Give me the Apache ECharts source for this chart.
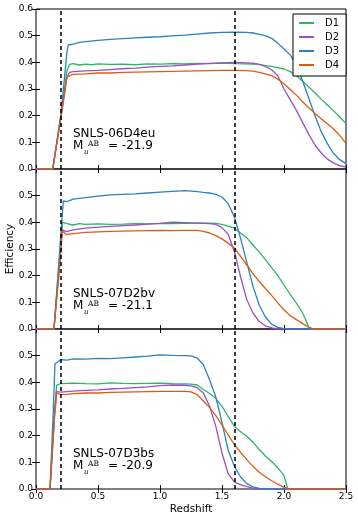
<!DOCTYPE html>
<html>
<head>
<meta charset="utf-8">
<script src="https://cdn.jsdelivr.net/npm/echarts@6/dist/echarts.min.js"></script>
<style>
  html, body { margin: 0; padding: 0; background: #fff; }
  #main { width: 358px; height: 521px; }
</style>
</head>
<body>
<div id="main"></div>
<script>
// redshift cuts (dashed lines)
var cuts = [0.2, 1.6];
var names = ['D1', 'D2', 'D3', 'D4'];
var colors = ['#2db562', '#9a4fc2', '#2a82c1', '#df5a14'];
var xTicks = [0, 0.5, 1.0, 1.5, 2.0, 2.5];
var panelLabels = ['SNLS-06D4eu', 'SNLS-07D2bv', 'SNLS-07D3bs'];
var panelMags = ['-21.9', '-21.1', '-20.9'];

// panel 1: SNLS-06D4eu  [redshift, efficiency]
var d1Top = [[0,0],[0.135,0],[0.2,0.2],[0.25,0.37],[0.27,0.392],[0.3,0.395],[0.35,0.39],[0.4,0.393],[0.45,0.391],[0.5,0.394],[0.6,0.392],[0.7,0.393],[0.8,0.391],[0.9,0.394],[1.0,0.393],[1.1,0.395],[1.2,0.394],[1.3,0.396],[1.4,0.395],[1.5,0.397],[1.6,0.395],[1.7,0.394],[1.8,0.392],[1.85,0.388],[1.9,0.385],[1.95,0.38],[2.0,0.375],[2.05,0.365],[2.1,0.35],[2.15,0.33],[2.2,0.308],[2.25,0.285],[2.3,0.262],[2.35,0.24],[2.4,0.218],[2.45,0.195],[2.5,0.17]];
var d2Top = [[0,0],[0.135,0],[0.2,0.19],[0.25,0.345],[0.27,0.362],[0.3,0.365],[0.4,0.368],[0.5,0.37],[0.6,0.373],[0.7,0.376],[0.8,0.378],[0.9,0.382],[1.0,0.385],[1.1,0.387],[1.2,0.39],[1.3,0.393],[1.4,0.396],[1.5,0.398],[1.6,0.4],[1.7,0.398],[1.75,0.397],[1.8,0.392],[1.85,0.385],[1.9,0.372],[1.95,0.35],[2.0,0.3],[2.05,0.26],[2.1,0.22],[2.15,0.175],[2.2,0.13],[2.25,0.09],[2.3,0.06],[2.35,0.037],[2.4,0.022],[2.45,0.013],[2.5,0.007]];
var d3Top = [[0,0],[0.135,0],[0.2,0.2],[0.25,0.44],[0.26,0.465],[0.3,0.468],[0.35,0.475],[0.4,0.478],[0.5,0.482],[0.6,0.486],[0.7,0.489],[0.8,0.492],[0.9,0.494],[1.0,0.496],[1.1,0.499],[1.2,0.502],[1.3,0.506],[1.4,0.51],[1.5,0.512],[1.6,0.513],[1.7,0.512],[1.75,0.51],[1.8,0.505],[1.85,0.5],[1.9,0.49],[1.95,0.472],[2.0,0.45],[2.05,0.428],[2.1,0.39],[2.15,0.33],[2.2,0.265],[2.25,0.2],[2.3,0.14],[2.35,0.095],[2.4,0.058],[2.45,0.035],[2.5,0.02]];
var d4Top = [[0,0],[0.135,0],[0.2,0.19],[0.25,0.345],[0.26,0.352],[0.3,0.355],[0.4,0.357],[0.5,0.36],[0.6,0.36],[0.7,0.362],[0.8,0.363],[0.9,0.364],[1.0,0.365],[1.1,0.366],[1.2,0.367],[1.3,0.368],[1.4,0.369],[1.5,0.37],[1.6,0.37],[1.7,0.369],[1.75,0.367],[1.8,0.362],[1.85,0.357],[1.9,0.35],[1.95,0.337],[2.0,0.32],[2.05,0.298],[2.1,0.277],[2.15,0.252],[2.2,0.23],[2.25,0.208],[2.3,0.188],[2.35,0.17],[2.4,0.15],[2.45,0.125],[2.5,0.096]];

// panel 2: SNLS-07D2bv
var d1Mid = [[0,0],[0.145,0],[0.2,0.32],[0.215,0.4],[0.25,0.395],[0.3,0.39],[0.35,0.395],[0.4,0.392],[0.5,0.394],[0.6,0.392],[0.7,0.393],[0.8,0.395],[0.9,0.394],[1.0,0.396],[1.1,0.395],[1.2,0.396],[1.3,0.397],[1.4,0.397],[1.45,0.396],[1.5,0.392],[1.55,0.386],[1.6,0.378],[1.65,0.36],[1.7,0.342],[1.75,0.315],[1.8,0.288],[1.85,0.26],[1.9,0.23],[1.95,0.2],[2.0,0.165],[2.05,0.13],[2.1,0.097],[2.15,0.06],[2.18,0.03],[2.2,0.005],[2.22,0],[2.5,0]];
var d2Mid = [[0,0],[0.145,0],[0.2,0.3],[0.215,0.372],[0.24,0.365],[0.3,0.372],[0.4,0.378],[0.5,0.382],[0.6,0.385],[0.7,0.388],[0.8,0.39],[0.9,0.393],[1.0,0.396],[1.1,0.401],[1.2,0.399],[1.3,0.397],[1.4,0.395],[1.45,0.392],[1.5,0.38],[1.55,0.355],[1.6,0.29],[1.65,0.195],[1.7,0.11],[1.75,0.06],[1.8,0.028],[1.85,0.012],[1.9,0.004],[1.95,0],[2.5,0]];
var d3Mid = [[0,0],[0.145,0],[0.2,0.35],[0.22,0.48],[0.25,0.478],[0.3,0.487],[0.4,0.493],[0.5,0.498],[0.6,0.503],[0.7,0.505],[0.8,0.507],[0.9,0.51],[1.0,0.513],[1.1,0.516],[1.2,0.519],[1.3,0.515],[1.35,0.512],[1.4,0.51],[1.45,0.505],[1.5,0.495],[1.55,0.47],[1.6,0.42],[1.65,0.34],[1.7,0.25],[1.75,0.16],[1.8,0.09],[1.85,0.045],[1.9,0.018],[1.95,0.006],[2.0,0.001],[2.05,0],[2.5,0]];
var d4Mid = [[0,0],[0.145,0],[0.2,0.28],[0.21,0.37],[0.24,0.355],[0.3,0.358],[0.4,0.362],[0.5,0.364],[0.6,0.366],[0.7,0.367],[0.8,0.368],[0.9,0.369],[1.0,0.37],[1.1,0.369],[1.2,0.37],[1.3,0.37],[1.35,0.366],[1.4,0.36],[1.45,0.35],[1.5,0.338],[1.55,0.322],[1.6,0.304],[1.65,0.272],[1.7,0.24],[1.75,0.208],[1.8,0.178],[1.85,0.152],[1.9,0.126],[1.95,0.098],[2.0,0.072],[2.05,0.05],[2.1,0.035],[2.15,0.02],[2.2,0.007],[2.24,0],[2.5,0]];

// panel 3: SNLS-07D3bs
var d1Bot = [[0,0],[0.113,0],[0.15,0.3],[0.167,0.39],[0.2,0.395],[0.3,0.397],[0.4,0.395],[0.5,0.394],[0.6,0.398],[0.7,0.396],[0.8,0.395],[0.9,0.396],[1.0,0.397],[1.1,0.395],[1.2,0.394],[1.25,0.393],[1.3,0.39],[1.35,0.373],[1.4,0.358],[1.45,0.34],[1.5,0.31],[1.55,0.272],[1.6,0.235],[1.65,0.215],[1.7,0.198],[1.75,0.175],[1.8,0.148],[1.85,0.124],[1.9,0.103],[1.95,0.08],[2.0,0.05],[2.03,0],[2.5,0]];
var d2Bot = [[0,0],[0.113,0],[0.15,0.28],[0.165,0.365],[0.2,0.363],[0.3,0.367],[0.4,0.37],[0.5,0.372],[0.6,0.375],[0.7,0.377],[0.8,0.38],[0.9,0.383],[1.0,0.388],[1.1,0.39],[1.2,0.389],[1.25,0.387],[1.3,0.38],[1.35,0.36],[1.4,0.31],[1.45,0.235],[1.5,0.135],[1.55,0.057],[1.6,0.027],[1.65,0.016],[1.7,0.009],[1.75,0.003],[1.8,0],[2.5,0]];
var d3Bot = [[0,0],[0.113,0],[0.14,0.3],[0.153,0.47],[0.2,0.485],[0.25,0.483],[0.3,0.488],[0.4,0.487],[0.5,0.49],[0.6,0.489],[0.7,0.492],[0.8,0.495],[0.9,0.498],[1.0,0.503],[1.1,0.501],[1.2,0.5],[1.25,0.499],[1.3,0.491],[1.35,0.466],[1.4,0.41],[1.45,0.345],[1.5,0.25],[1.55,0.145],[1.6,0.085],[1.65,0.045],[1.7,0.02],[1.75,0.008],[1.8,0.002],[1.85,0],[2.5,0]];
var d4Bot = [[0,0],[0.113,0],[0.15,0.27],[0.167,0.36],[0.2,0.354],[0.25,0.355],[0.3,0.358],[0.4,0.36],[0.5,0.36],[0.6,0.362],[0.7,0.363],[0.8,0.364],[0.9,0.365],[1.0,0.366],[1.1,0.366],[1.2,0.366],[1.25,0.364],[1.3,0.354],[1.35,0.33],[1.4,0.305],[1.45,0.275],[1.5,0.24],[1.55,0.203],[1.6,0.166],[1.65,0.137],[1.7,0.11],[1.75,0.085],[1.8,0.063],[1.85,0.046],[1.9,0.031],[1.95,0.018],[2.0,0.006],[2.05,0],[2.5,0]];

var panels = [
    [d1Top, d2Top, d3Top, d4Top],
    [d1Mid, d2Mid, d3Mid, d4Mid],
    [d1Bot, d2Bot, d3Bot, d4Bot]
];

var FONT = 'DejaVu Sans';
var gridTops = [9, 169, 329];
var grids = [], xAxes = [], yAxes = [], series = [], graphics = [];

gridTops.forEach(function(top, p) {
    grids.push({
        left: 36, width: 310, top: top, height: 160,
        show: true, borderColor: '#000', borderWidth: 1, backgroundColor: 'transparent'
    });
    ['bottom', 'top'].forEach(function(pos) {
        xAxes.push({
            gridIndex: p, type: 'value', position: pos,
            min: 0, max: 2.5, interval: 0.5,
            axisLine: { show: false },
            axisTick: { show: true, inside: true, length: 4, lineStyle: { color: '#000' } },
            splitLine: { show: false },
            axisLabel: {
                show: pos === 'bottom' && p === 2,
                margin: 3, color: '#000', fontSize: 9, fontFamily: FONT,
                formatter: function(v) { return v.toFixed(1); }
            }
        });
    });
    ['left', 'right'].forEach(function(pos) {
        yAxes.push({
            gridIndex: p, type: 'value', position: pos,
            min: 0, max: 0.6, interval: 0.1,
            axisLine: { show: false },
            axisTick: { show: true, inside: true, length: 4, lineStyle: { color: '#000' } },
            splitLine: { show: false },
            axisLabel: {
                show: pos === 'left',
                margin: 3, color: '#000', fontSize: 9, fontFamily: FONT,
                formatter: function(v) {
                    if (p > 0 && Math.abs(v - 0.6) < 1e-6) return '';
                    return v.toFixed(1);
                }
            }
        });
    });

    panels[p].forEach(function(data, k) {
        var s = {
            name: names[k], type: 'line',
            xAxisIndex: p * 2, yAxisIndex: p * 2,
            data: data, showSymbol: false, symbol: 'none',
            lineStyle: { color: colors[k], width: 1.3 },
            itemStyle: { color: colors[k] },
            silent: true
        };
        if (k === 0) {
            s.markLine = {
                silent: true, symbol: 'none',
                label: { show: false },
                lineStyle: { color: '#000', type: [4, 3], width: 1.5 },
                data: cuts.map(function(c) { return { xAxis: c }; })
            };
        }
        series.push(s);
    });

    // panel annotation
    graphics.push({
        type: 'text', left: 73, top: top + 119,
        style: { text: panelLabels[p], fill: '#000', font: '12px "DejaVu Sans"' }
    });
    graphics.push({
        type: 'text', left: 73, top: top + 131,
        style: { text: 'M', fill: '#000', font: '12px "DejaVu Sans"' }
    });
    graphics.push({
        type: 'text', left: 84, top: top + 140,
        style: { text: 'u', fill: '#000', font: 'italic 7px "DejaVu Serif"' }
    });
    graphics.push({
        type: 'text', left: 88, top: top + 131,
        style: { text: 'AB', fill: '#000', font: '7.5px "DejaVu Serif"' }
    });
    graphics.push({
        type: 'text', left: 108, top: top + 131,
        style: { text: '= ' + panelMags[p], fill: '#000', font: '12px "DejaVu Sans"' }
    });
});

graphics.push({
    type: 'text', x: 10, y: 249, rotation: Math.PI / 2,
    style: { text: 'Efficiency', fill: '#000', font: '10.5px "DejaVu Sans"', align: 'center', verticalAlign: 'middle' }
});
graphics.push({
    type: 'text', x: 191, y: 509,
    style: { text: 'Redshift', fill: '#000', font: '10.5px "DejaVu Sans"', align: 'center', verticalAlign: 'middle' }
});

var myChart = echarts.init(document.getElementById('main'), null, { renderer: 'canvas' });

var option = {
    animation: false,
    backgroundColor: '#fff',
    grid: grids,
    xAxis: xAxes,
    yAxis: yAxes,
    legend: {
        orient: 'vertical', left: 293, top: 14,
        data: names,
        icon: 'rect', itemWidth: 15, itemHeight: 2, itemGap: 2,
        padding: [3, 7, 5, 6],
        backgroundColor: '#fff', borderColor: '#000', borderWidth: 1, borderRadius: 0,
        textStyle: { color: '#000', fontSize: 10, fontFamily: FONT, lineHeight: 12, padding: [0, 0, 0, 6] }
    },
    graphic: graphics,
    series: series
};

myChart.setOption(option);
</script>
</body>
</html>
